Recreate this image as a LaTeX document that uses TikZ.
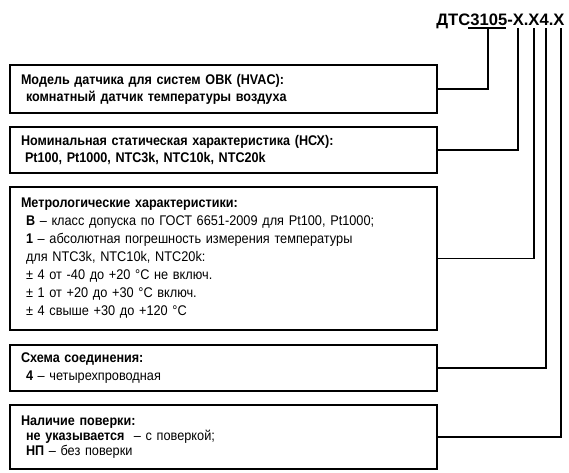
\documentclass[tikz,border=0pt]{standalone}
\usepackage{fontspec}
\setmainfont{Liberation Sans}
\newfontfamily\boxfont{Liberation Sans}[FakeStretch=0.91, BoldFeatures={FakeStretch=0.9}]
\usetikzlibrary{positioning}

\tikzset{
  infobox/.style={draw, line width=1.8pt, anchor=north west, outer sep=0pt,
    minimum width=427pt, text width=405pt, inner xsep=11pt, inner ysep=0pt,
    align=left, font=\boxfont\fontsize{14}{17}\selectfont},
  lead/.style={line width=1.8pt},
}

\begin{document}
\begin{tikzpicture}[x=1pt, y=-1pt]
    \useasboundingbox (0,0) rectangle (569,472);

    \node[anchor=base east, font=\bfseries\fontsize{16.6}{17}\selectfont] (title) at (568,25) {ДТС3105-X.X4.X};

    \coordinate (u1) at (468,28);
    \coordinate (u2) at (506,28);
    \coordinate (t1) at (488,28);
    \coordinate (t2) at (518,28);
    \coordinate (t3) at (534,28);
    \coordinate (t4) at (546,28);
    \coordinate (t5) at (561,28);

    \node[infobox, minimum height=48pt] at (10,65) (model)
      {\textbf{Модель датчика для систем ОВК (HVAC):}\\
       \hspace*{5pt}\textbf{комнатный датчик температуры воздуха}};
    \node[infobox, minimum height=46pt] at (10,127) (nsh)
      {\textbf{Номинальная статическая характеристика (НСХ):}\\
       \hspace*{4pt}\textbf{Pt100, Pt1000, NTC3k, NTC10k, NTC20k}};
    \node[infobox, minimum height=143pt, font=\boxfont\fontsize{14}{18}\selectfont] at (10,187) (metro)
      {\textbf{Метрологические характеристики:}\\
       \hspace*{5pt}\textbf{В} – класс допуска по ГОСТ 6651-2009 для Pt100, Pt1000;\\
       \hspace*{5pt}\textbf{1} – абсолютная погрешность измерения температуры\\
       \hspace*{5pt}для NTC3k, NTC10k, NTC20k:\\
       \hspace*{5pt}± 4 от -40 до +20 °C не включ.\\
       \hspace*{5pt}± 1 от +20 до +30 °C включ.\\
       \hspace*{5pt}± 4 свыше +30 до +120 °C};
    \node[infobox, minimum height=46pt, font=\boxfont\fontsize{14}{18}\selectfont] at (10,345) (scheme)
      {\textbf{Схема соединения:}\\
       \hspace*{5pt}\textbf{4} – четырехпроводная};
    \node[infobox, minimum height=64pt, font=\boxfont\fontsize{14}{15}\selectfont] at (10,405) (check)
      {\textbf{Наличие поверки:}\\
       \hspace*{5pt}\textbf{не указывается} \ – с поверкой;\\
       \hspace*{5pt}\textbf{НП} – без поверки};

    \draw[lead] (u1) -- (u2);
    \draw[lead] (model.east) -| (t1);
    \draw[lead] (nsh.east) -| (t2);
    \draw[lead] (metro.east) -| (t3);
    \draw[lead] (scheme.east) -| (t4);
    \draw[lead] (check.east) -| (t5);
\end{tikzpicture}
\end{document}
